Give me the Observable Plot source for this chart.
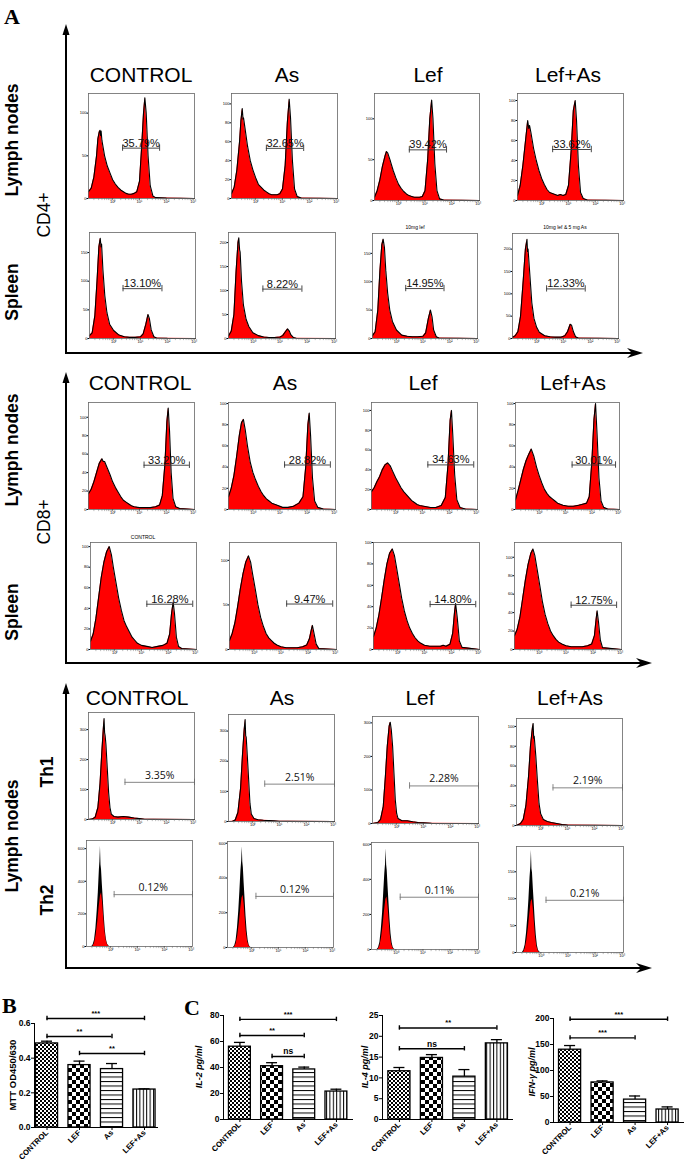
<!DOCTYPE html>
<html><head><meta charset="utf-8">
<script src="https://cdn.jsdelivr.net/npm/d3@7"></script>
<script src="https://cdn.jsdelivr.net/npm/@observablehq/plot@0.6"></script>
<style>
body{margin:0;background:#fff;}
#fig{position:relative;width:685px;height:1165px;overflow:hidden;background:#fff;font-family:"Liberation Sans",Arial,sans-serif;}
#fig svg{position:absolute;overflow:visible;}
</style></head><body><div id="fig"></div>
<script>
// ---------------- DATA ----------------
const treatments = ["CONTROL", "As", "Lef", "Lef+As"];
const cd4LymphPct = ["35.79%", "32.65%", "39.42%", "33.62%"];
const cd4SpleenPct = ["13.10%", "8.22%", "14.95%", "12.33%"];
const cd8LymphPct = ["33.20%", "28.82%", "34.63%", "30.01%"];
const cd8SpleenPct = ["16.28%", "9.47%", "14.80%", "12.75%"];
const th1Pct = ["3.35%", "2.51%", "2.28%", "2.19%"];
const th2Pct = ["0.12%", "0.12%", "0.11%", "0.21%"];
const spleenSubtitles = ["", "", "10mg lef", "10mg lef & 5 mg As"];
const cd8SpleenSubtitles = ["CONTROL", "", "", ""];

// histogram curves: [log10 fluorescence, count]
const cd4Lymph = [
 [[-0.9,8],[-0.8,12],[-0.7,25],[-0.6,50],[-0.55,70],[-0.5,78],[-0.47,80],[-0.45,74],[-0.43,79],[-0.4,68],[-0.3,50],[-0.2,38],[-0.1,30],[0,22],[0.1,17],[0.2,13],[0.3,10],[0.4,8],[0.5,6],[0.6,5],[0.7,5],[0.8,6],[0.9,8],[1.0,20],[1.08,60],[1.15,100],[1.2,118],[1.25,100],[1.32,50],[1.4,15],[1.5,3],[1.6,1],[2,0.5],[3.05,0]],
 [[-0.9,5],[-0.8,12],[-0.7,30],[-0.6,60],[-0.55,82],[-0.5,95],[-0.47,84],[-0.45,85],[-0.4,75],[-0.3,55],[-0.2,40],[-0.1,30],[0,22],[0.1,15],[0.2,12],[0.3,9],[0.4,7],[0.5,5],[0.6,4],[0.7,4],[0.8,4],[0.9,5],[1.0,10],[1.1,35],[1.18,80],[1.25,105],[1.3,85],[1.37,40],[1.45,10],[1.55,2],[1.7,0.5],[3.05,0]],
 [[-0.9,4],[-0.8,12],[-0.7,25],[-0.6,42],[-0.5,55],[-0.45,60],[-0.4,58],[-0.3,48],[-0.2,37],[-0.1,28],[0,20],[0.1,15],[0.2,11],[0.3,8],[0.4,6],[0.5,5],[0.6,4],[0.7,4],[0.8,4],[0.9,5],[1.0,12],[1.1,50],[1.18,100],[1.25,123],[1.3,100],[1.37,45],[1.45,12],[1.55,2],[1.7,0.5],[3.05,0]],
 [[-0.9,5],[-0.8,15],[-0.7,35],[-0.6,60],[-0.52,80],[-0.48,72],[-0.45,75],[-0.4,68],[-0.3,52],[-0.2,40],[-0.1,30],[0,22],[0.1,16],[0.2,11],[0.3,8],[0.4,7],[0.5,6],[0.6,5],[0.7,6],[0.8,5],[0.9,6],[1.0,15],[1.1,50],[1.18,90],[1.25,100],[1.3,80],[1.37,35],[1.45,8],[1.55,2],[1.7,0.5],[3.05,0]]
];
const cd4Spleen = [
 [[-0.9,5],[-0.8,10],[-0.7,40],[-0.62,100],[-0.55,160],[-0.5,175],[-0.47,160],[-0.45,165],[-0.4,120],[-0.33,75],[-0.25,45],[-0.15,25],[0,14],[0.2,6],[0.4,3],[0.6,2],[0.8,2],[1.0,3],[1.1,8],[1.2,25],[1.28,42],[1.33,35],[1.4,15],[1.5,3],[1.6,1],[2,0.3],[3.05,0]],
 [[-0.9,5],[-0.8,15],[-0.7,50],[-0.62,140],[-0.55,200],[-0.52,210],[-0.49,185],[-0.47,180],[-0.42,120],[-0.35,70],[-0.25,40],[-0.15,25],[0,12],[0.2,6],[0.4,3],[0.6,2],[0.8,2],[1.0,3],[1.1,6],[1.2,14],[1.28,20],[1.34,16],[1.4,8],[1.5,2],[1.6,0.5],[3.05,0]],
 [[-0.9,5],[-0.8,12],[-0.7,50],[-0.62,120],[-0.55,165],[-0.5,175],[-0.45,160],[-0.4,120],[-0.33,80],[-0.25,50],[-0.15,30],[0,15],[0.2,6],[0.4,4],[0.6,3],[0.8,3],[1.0,4],[1.1,10],[1.2,35],[1.28,50],[1.34,38],[1.4,15],[1.5,3],[1.6,1],[3.05,0]],
 [[-0.9,3],[-0.8,6],[-0.7,15],[-0.6,50],[-0.5,130],[-0.42,200],[-0.36,222],[-0.34,195],[-0.32,200],[-0.25,140],[-0.18,80],[-0.1,45],[0,25],[0.1,14],[0.3,6],[0.5,4],[0.7,3],[0.9,3],[1.05,6],[1.15,15],[1.25,32],[1.3,30],[1.37,15],[1.45,4],[1.55,1],[3.05,0]]
];
const cd8Lymph = [
 [[-0.9,17],[-0.8,22],[-0.7,30],[-0.6,40],[-0.5,50],[-0.4,55],[-0.35,52],[-0.3,52],[-0.2,45],[-0.1,38],[0,30],[0.1,24],[0.2,19],[0.3,14],[0.4,10],[0.5,8],[0.6,6],[0.7,4],[0.8,3],[1.0,2],[1.2,2],[1.4,2],[1.6,3],[1.75,5],[1.85,15],[1.95,50],[2.02,95],[2.07,110],[2.12,85],[2.18,40],[2.25,12],[2.35,3],[2.5,1],[3.05,0]],
 [[-0.9,12],[-0.8,20],[-0.7,32],[-0.6,50],[-0.5,70],[-0.42,82],[-0.35,85],[-0.28,75],[-0.2,60],[-0.1,45],[0,35],[0.1,28],[0.2,22],[0.3,17],[0.4,13],[0.5,10],[0.6,8],[0.7,6],[0.8,5],[0.9,4],[1.1,2],[1.3,2],[1.5,3],[1.7,6],[1.85,12],[1.95,40],[2.03,80],[2.08,91],[2.13,70],[2.2,30],[2.28,8],[2.4,2],[2.6,0.5],[3.05,0]],
 [[-0.9,18],[-0.8,22],[-0.7,28],[-0.6,33],[-0.5,40],[-0.4,45],[-0.3,47],[-0.2,44],[-0.1,38],[0,32],[0.1,27],[0.2,22],[0.3,18],[0.4,15],[0.5,12],[0.6,9],[0.7,7],[0.8,5],[0.9,4],[1.1,3],[1.3,2],[1.5,2],[1.7,4],[1.85,12],[1.95,45],[2.03,90],[2.08,100],[2.13,75],[2.2,35],[2.28,10],[2.4,2],[2.6,0.5],[3.05,0]],
 [[-0.9,9],[-0.8,18],[-0.7,28],[-0.6,38],[-0.5,46],[-0.4,52],[-0.3,57],[-0.2,50],[-0.1,40],[0,32],[0.1,25],[0.2,19],[0.3,15],[0.4,12],[0.5,10],[0.6,8],[0.7,6],[0.8,5],[0.9,4],[1.1,3],[1.3,3],[1.5,4],[1.65,5],[1.8,6],[1.9,12],[2.0,45],[2.08,85],[2.14,100],[2.2,70],[2.27,30],[2.35,8],[2.45,2],[2.6,0.5],[3.05,0]]
];
const cd8Spleen = [
 [[-0.9,8],[-0.8,15],[-0.7,30],[-0.6,50],[-0.5,70],[-0.4,85],[-0.3,95],[-0.2,100],[-0.12,92],[-0.05,80],[0.05,65],[0.15,50],[0.25,38],[0.35,28],[0.45,22],[0.55,17],[0.65,12],[0.75,9],[0.85,6],[1.0,4],[1.2,3],[1.4,2],[1.6,3],[1.8,4],[1.95,6],[2.05,15],[2.12,35],[2.18,46],[2.23,35],[2.3,12],[2.38,3],[2.5,1],[3.05,0]],
 [[-0.9,10],[-0.8,18],[-0.7,30],[-0.6,48],[-0.5,68],[-0.4,85],[-0.3,98],[-0.2,105],[-0.12,98],[-0.05,85],[0.05,68],[0.15,50],[0.25,36],[0.35,26],[0.45,18],[0.55,13],[0.65,10],[0.75,7],[0.85,5],[1.0,3],[1.2,2],[1.4,2],[1.6,2],[1.8,3],[1.95,5],[2.05,12],[2.12,22],[2.16,27],[2.22,18],[2.3,6],[2.4,1],[3.05,0]],
 [[-0.9,12],[-0.8,20],[-0.7,32],[-0.6,48],[-0.5,65],[-0.4,80],[-0.3,90],[-0.2,94],[-0.12,88],[-0.05,78],[0.05,63],[0.15,48],[0.25,36],[0.35,27],[0.45,20],[0.55,15],[0.65,11],[0.75,8],[0.85,6],[1.0,4],[1.2,3],[1.4,3],[1.6,3],[1.7,4],[1.8,3],[1.95,5],[2.05,15],[2.12,35],[2.16,43],[2.22,30],[2.3,8],[2.4,2],[3.05,0]],
 [[-0.9,15],[-0.8,22],[-0.7,35],[-0.6,55],[-0.5,75],[-0.4,92],[-0.3,104],[-0.22,109],[-0.15,102],[-0.07,88],[0.03,70],[0.13,52],[0.23,38],[0.33,28],[0.43,20],[0.53,15],[0.63,11],[0.73,8],[0.85,6],[1.0,4],[1.2,3],[1.4,3],[1.6,3],[1.8,4],[1.95,6],[2.05,15],[2.11,32],[2.15,42],[2.2,30],[2.27,10],[2.35,2],[3.05,0]]
];
const th1 = [
 [[-0.9,0],[-0.75,2],[-0.65,8],[-0.55,40],[-0.47,120],[-0.4,230],[-0.35,300],[-0.32,337],[-0.3,290],[-0.28,280],[-0.25,250],[-0.2,170],[-0.15,90],[-0.1,40],[-0.05,18],[0.05,10],[0.2,8],[0.4,10],[0.6,8],[0.8,5],[1.0,3],[1.2,1],[1.5,0.5],[3.05,0]],
 [[-0.9,0],[-0.75,1],[-0.65,5],[-0.55,30],[-0.45,110],[-0.38,220],[-0.32,300],[-0.28,338],[-0.26,285],[-0.24,280],[-0.2,220],[-0.15,140],[-0.1,60],[-0.05,25],[0.05,10],[0.2,6],[0.4,4],[0.6,3],[0.8,2],[1.0,1],[1.3,0.5],[3.05,0]],
 [[-0.9,0],[-0.7,3],[-0.6,12],[-0.5,50],[-0.42,140],[-0.35,230],[-0.28,290],[-0.24,302],[-0.2,280],[-0.15,230],[-0.1,150],[-0.05,70],[0,30],[0.05,15],[0.2,8],[0.4,8],[0.6,5],[0.8,3],[1.0,2],[1.3,0.5],[3.05,0]],
 [[-0.9,0],[-0.75,2],[-0.65,6],[-0.55,20],[-0.45,50],[-0.38,80],[-0.31,98],[-0.28,103],[-0.26,88],[-0.24,90],[-0.18,70],[-0.12,45],[-0.06,22],[0,12],[0.1,6],[0.25,4],[0.4,3],[0.6,2],[0.8,1],[1.0,0.5],[3.05,0]]
];
const th2Raw = [
 [[-0.9,0],[-0.7,0],[-0.65,10],[-0.6,40],[-0.55,110],[-0.5,220],[-0.46,330],[-0.42,470],[-0.4,520],[-0.38,615],[-0.36,500],[-0.34,470],[-0.31,380],[-0.28,300],[-0.24,190],[-0.2,100],[-0.16,45],[-0.12,15],[-0.07,3],[-0.03,0],[3.05,0]],
 [[-0.9,0],[-0.68,0],[-0.63,10],[-0.58,40],[-0.53,110],[-0.48,210],[-0.44,320],[-0.4,440],[-0.37,500],[-0.35,580],[-0.33,490],[-0.31,460],[-0.28,370],[-0.25,290],[-0.21,180],[-0.17,95],[-0.13,40],[-0.09,12],[-0.05,2],[-0.01,0],[3.05,0]],
 [[-0.9,0],[-0.69,0],[-0.64,10],[-0.59,40],[-0.54,110],[-0.49,210],[-0.45,320],[-0.41,430],[-0.38,490],[-0.36,575],[-0.34,480],[-0.32,450],[-0.29,360],[-0.26,280],[-0.22,175],[-0.18,90],[-0.14,38],[-0.1,12],[-0.06,2],[-0.02,0],[3.05,0]],
 [[-0.9,0],[-0.68,0],[-0.63,4],[-0.58,14],[-0.53,36],[-0.48,68],[-0.44,100],[-0.4,140],[-0.37,160],[-0.35,190],[-0.33,155],[-0.31,148],[-0.28,120],[-0.25,95],[-0.21,60],[-0.17,32],[-0.13,13],[-0.09,4],[-0.05,1],[-0.01,0],[3.05,0]]
];
const th2Gated = [
 [[-0.66,0],[-0.6,20],[-0.54,70],[-0.48,150],[-0.43,240],[-0.38,310],[-0.34,330],[-0.3,270],[-0.26,180],[-0.22,100],[-0.17,40],[-0.12,10],[-0.07,0]],
 [[-0.64,0],[-0.58,20],[-0.52,65],[-0.46,140],[-0.41,220],[-0.36,285],[-0.32,300],[-0.28,250],[-0.24,170],[-0.2,90],[-0.15,35],[-0.1,8],[-0.05,0]],
 [[-0.65,0],[-0.59,20],[-0.53,65],[-0.47,140],[-0.42,220],[-0.37,285],[-0.33,300],[-0.29,245],[-0.25,165],[-0.21,85],[-0.16,32],[-0.11,7],[-0.06,0]],
 [[-0.64,0],[-0.58,7],[-0.52,22],[-0.46,46],[-0.41,72],[-0.36,94],[-0.32,99],[-0.28,82],[-0.24,56],[-0.2,30],[-0.15,11],[-0.1,3],[-0.05,0]]
];
// gates: [from log10, to log10, count level]
const cd4LymphGates = [[0.37,1.75,59],[0.40,1.79,53],[0.41,1.81,62],[0.41,1.85,51]];
const cd4SpleenGates = [[0.35,1.8,87],[0.37,1.81,103],[0.35,1.79,88],[0.37,1.81,111]];
const cd8LymphGates = [[1.17,2.86,48],[1.17,2.86,42],[1.2,2.91,45],[1.25,2.9,42]];
const cd8SpleenGates = [[1.2,2.91,44],[1.21,2.91,51],[1.21,2.91,42],[1.19,2.87,48]];
const th1Gates = [[0.46,3.05,124],[0.45,3.05,124],[0.48,3.05,112],[0.46,3.05,38]];
const th2Gates = [[0.13,3.05,318],[0.16,3.05,294],[0.16,3.05,298],[0.19,3.05,97]];
// y scale tops and ticks
const cd4LymphYmax = [123,111,131,107];
const cd4SpleenYmax = [185,221,185,235];
const cd8LymphYmax = [116,101,108,101];
const cd8SpleenYmax = [104,120,100,116];
const th1Ymax = [357,355,319,108];
const th2Ymax = [650,610,610,197];
const t20 = [0,20,40,60,80,100], t50 = [0,50,100], t50b=[0,50,100,150], t50c=[0,50,100,150,200];
const cd4LymphYticks = [t50,t20,t50,t20];
const cd4SpleenYticks = [t50b,t50c,t50b,t50c];
const cd8LymphYticks = [t20,t20,t20,t20];
const cd8SpleenYticks = [t20,t50,t20,t20];
const th1Yticks = [[0,100,200,300],[0,100,200,300],[0,100,200,300],t20];
const th2Yticks = [[0,200,400,600],[0,200,400,600],[0,200,400,600],t50b];
const decadeLabels = ["10⁰","10¹","10²","10³"];

// bar charts
const barCats = ["CONTROL","LEF","As","LEF+As"];
const mttMean = [0.485,0.36,0.337,0.219];
const mttSem = [0.013,0.023,0.032,0.004];
const il2Mean = [56,41,38.5,21.5];
const il2Sem = [3.3,2.7,1.8,1.8];
const il4Mean = [11.6,14.8,10.3,18.3];
const il4Sem = [0.9,0.8,1.7,0.9];
const ifnMean = [140,77,44,25];
const ifnSem = [8,3,7,5];
const mttSig = [{from:0,to:3,y:0.629,label:"***"},{from:0,to:2,y:0.525,label:"**"},{from:1,to:3,y:0.427,label:"**"}];
const il2Sig = [{from:0,to:3,y:77,label:"***"},{from:0,to:2,y:64.6,label:"**"},{from:1,to:2,y:48.5,label:"ns"}];
const il4Sig = [{from:0,to:3,y:22,label:"**"},{from:0,to:2,y:17,label:"ns"}];
const ifnSig = [{from:0,to:3,y:198.7,label:"***"},{from:0,to:2,y:162.8,label:"***"}];

// ---------------- LAYOUT ----------------
const fig = document.getElementById("fig");
const RED = "#ff0000";
const NS = "http://www.w3.org/2000/svg";
const cd4LymphBox = [[88,93,194,198],[231,93,337,198],[374,93,479,200],[517,93,623,200]];
const cd4SpleenBox = [[89,232,195,338],[228,232,335,338],[372,233,477,338],[512,233,618,338]];
const cd8LymphBox = [[88,402,194,509],[228,402,335,509],[371,402,477,509],[515,402,619,509]];
const cd8SpleenBox = [[90,542,196,649],[229,542,336,649],[373,542,479,649],[514,542,621,649]];
const th1Box = [[88,712,194,819],[228,714,334,821],[372,716,478,823],[516,718,622,825]];
const th2Box = [[86,840,192,946],[227,841,333,947],[371,842,478,949],[516,846,623,952]];

const minorTicks = [];
for (let d = -1; d <= 2; d++) for (let k = 2; k <= 9; k++) { const v = d + Math.log10(k); if (v > -0.9 && v < 3.05) minorTicks.push(v); }

function place(svg, left, top) { svg.style.left = left + "px"; svg.style.top = top + "px"; fig.appendChild(svg); }

function histPanel(box, ymax, yticks, curve, raw, gate, pct, th) {
  const [L,T,R,B] = box;
  const mL = 16, mR = 2, mT = 2, mB = 10;
  const x = d => d[0], y = d => d[1];
  const hh = ymax * 0.03;
  const gs = th ? "#777" : "#333";
  const marks = [];
  if (raw) marks.push(Plot.areaY(raw, {x, y, fill: "#000"}));
  marks.push(Plot.areaY(curve, {x, y, fill: RED}));
  if (!raw) marks.push(Plot.lineY(curve, {x, y, stroke: "#000", strokeWidth: 1.1}));
  marks.push(Plot.ruleX(minorTicks, {x: d => d, y1: 0, y2: -ymax * 0.02, stroke: "#555", strokeWidth: 0.4}));
  marks.push(Plot.ruleY([gate], {x1: d => d[0], x2: d => d[1], y: d => d[2], stroke: gs, strokeWidth: 0.9}));
  marks.push(Plot.ruleX([gate[0], gate[1]], {x: d => d, y1: gate[2] - hh, y2: gate[2] + hh, stroke: gs, strokeWidth: 0.9}));
  marks.push(Plot.text([pct], {x: (gate[0] + gate[1]) / 2, y: gate[2], text: d => d, dy: th ? -7 : -5, fontSize: th ? 10.5 : 11, fontFamily: th ? "Open Sans" : "Liberation Sans", fill: "#111"}));
  marks.push(Plot.frame({stroke: "#666", strokeWidth: 0.8}));
  const svg = Plot.plot({
    width: R - L + mL + mR, height: B - T + mT + mB,
    marginLeft: mL, marginRight: mR, marginTop: mT, marginBottom: mB,
    style: {fontSize: "4px", fontFamily: "Liberation Sans", background: "transparent", overflow: "visible"},
    x: {domain: [-0.9, 3.05], ticks: [0,1,2,3], tickFormat: d => decadeLabels[d], tickSize: 1.5, tickPadding: 0.5, label: null},
    y: {domain: [0, ymax], ticks: yticks, tickSize: 1.5, tickPadding: 0.5, label: null},
    marks
  });
  place(svg, L - mL, T - mT);
}

function row(boxes, ymaxs, yticks, curves, raws, gates, pcts, th) {
  for (let i = 0; i < 4; i++) histPanel(boxes[i], ymaxs[i], yticks[i], curves[i], raws ? raws[i] : null, gates[i], pcts[i], th);
}
row(cd4LymphBox, cd4LymphYmax, cd4LymphYticks, cd4Lymph, null, cd4LymphGates, cd4LymphPct, false);
row(cd4SpleenBox, cd4SpleenYmax, cd4SpleenYticks, cd4Spleen, null, cd4SpleenGates, cd4SpleenPct, false);
row(cd8LymphBox, cd8LymphYmax, cd8LymphYticks, cd8Lymph, null, cd8LymphGates, cd8LymphPct, false);
row(cd8SpleenBox, cd8SpleenYmax, cd8SpleenYticks, cd8Spleen, null, cd8SpleenGates, cd8SpleenPct, false);
row(th1Box, th1Ymax, th1Yticks, th1, null, th1Gates, th1Pct, true);
row(th2Box, th2Ymax, th2Yticks, th2Gated, th2Raw, th2Gates, th2Pct, true);

// patterns
const defs = document.createElementNS(NS, "svg");
defs.setAttribute("width", 0); defs.setAttribute("height", 0);
defs.innerHTML = `<defs>
<pattern id="pCtl" patternUnits="userSpaceOnUse" width="4" height="4"><rect width="4" height="4" fill="#fff"/><rect width="2" height="2" fill="#000"/><rect x="2" y="2" width="2" height="2" fill="#000"/></pattern>
<pattern id="pLef" patternUnits="userSpaceOnUse" width="8" height="8"><rect width="8" height="8" fill="#fff"/><rect width="4" height="4" fill="#000"/><rect x="4" y="4" width="4" height="4" fill="#000"/></pattern>
<pattern id="pAs" patternUnits="userSpaceOnUse" width="4" height="4.5"><rect width="4" height="4.5" fill="#fff"/><rect width="4" height="1" fill="#000"/></pattern>
<pattern id="pLA" patternUnits="userSpaceOnUse" width="3.4" height="4"><rect width="3.4" height="4" fill="#fff"/><rect width="1" height="4" fill="#000"/></pattern>
</defs>`;
defs.style.left = "0px"; defs.style.top = "0px";
fig.appendChild(defs);
const barFills = ["url(#pCtl)","url(#pLef)","url(#pAs)","url(#pLA)"];

function barPanel(svgLeft, svgTop, frame, xdomain, ydomain, yticks, fmt, means, sems, sigs, mR) {
  const [L,T,R,B] = frame;
  const data = barCats.map((c, i) => ({i, c, m: means[i], e: means[i] + sems[i]}));
  const span = ydomain[1] - ydomain[0];
  const tk = span / 104 * 2.2;
  const ends = sigs.flatMap(s => [{x: s.from, y: s.y}, {x: s.to, y: s.y}]);
  const svg = Plot.plot({
    width: R - svgLeft + mR, height: 1165 - svgTop,
    marginLeft: L - svgLeft, marginRight: mR, marginTop: T - svgTop, marginBottom: 1165 - B,
    style: {fontSize: "8.5px", fontWeight: "bold", fontFamily: "Liberation Sans", background: "transparent", overflow: "visible"},
    x: {domain: xdomain, ticks: [0,1,2,3], tickFormat: i => barCats[i], tickRotate: -45, tickSize: 3, tickPadding: 1, line: true, label: null},
    y: {domain: ydomain, ticks: yticks, tickFormat: fmt, tickSize: 3, tickPadding: 1, line: true, label: null},
    color: {domain: barCats, range: barFills},
    marks: [
      Plot.rect(data, {x1: d => d.i - 0.34, x2: d => d.i + 0.34, y1: 0, y2: "m", fill: "c", stroke: "#000", strokeWidth: 1.3}),
      Plot.ruleX(data, {x: "i", y1: "m", y2: "e", stroke: "#000", strokeWidth: 1.3}),
      Plot.ruleY(data, {x1: d => d.i - 0.17, x2: d => d.i + 0.17, y: "e", stroke: "#000", strokeWidth: 1.3}),
      Plot.ruleY(sigs, {x1: "from", x2: "to", y: "y", stroke: "#000", strokeWidth: 1.4}),
      Plot.ruleX(ends, {x: "x", y1: d => d.y - tk, y2: d => d.y + tk, stroke: "#000", strokeWidth: 1.4}),
      Plot.text(sigs, {x: d => (d.from + d.to) / 2, y: "y", text: "label", dy: -5, fontSize: d => d.label === "ns" ? 8.5 : 7.5, fontWeight: d => d.label === "ns" ? "normal" : "bold"})
    ]
  });
  svg.querySelectorAll("text").forEach(t => { if (barCats.includes(t.textContent)) t.style.fontSize = "7.7px"; });
  place(svg, svgLeft, svgTop);
}
barPanel(0, 1000, [34,1023,157,1127], [-0.385,3.4], [0,0.6], [0,0.2,0.4,0.6], d3.format(".1f"), mttMean, mttSem, mttSig, 8);
barPanel(190, 1000, [223,1015,352,1119], [-0.51,3.5], [0,80], [0,20,40,60,80], d => d, il2Mean, il2Sem, il2Sig, 6);
barPanel(357, 1000, [382,1015,512,1119], [-0.52,3.48], [0,25], [0,5,10,15,20,25], d => d, il4Mean, il4Sem, il4Sig, 5);
barPanel(522, 1003, [553,1018,683,1122], [-0.51,3.49], [0,200], [0,50,100,150,200], d => d, ifnMean, ifnSem, ifnSig, 2);

// ---------------- OVERLAY (panel letters, group titles, row labels, axis arrows) ----------------
const titleX = [[141,287,428,568],[140,285,423,573],[137,282,420,570]];
const titleY = [82, 390, 705];
const arrows = [{x:66, top:24, y:353, right:643},{x:66, top:372, y:663, right:652},{x:66, top:683, y:968, right:652}];
const rowLabels = [
  {t:"Lymph nodes", x:18, y:140, bold:true}, {t:"CD4+", x:50, y:215, bold:false}, {t:"Spleen", x:18, y:292, bold:true},
  {t:"Lymph nodes", x:18, y:450, bold:true}, {t:"CD8+", x:50, y:522, bold:false}, {t:"Spleen", x:18, y:612, bold:true},
  {t:"Lymph nodes", x:18, y:836, bold:true}, {t:"Th1", x:53, y:772, bold:true}, {t:"Th2", x:53, y:900, bold:true}
];
let o = "";
arrows.forEach(a => {
  o += `<line x1="${a.x}" y1="${a.y}" x2="${a.x}" y2="${a.top+8}" stroke="#000" stroke-width="2"/>`;
  o += `<polygon points="${a.x},${a.top} ${a.x-3.5},${a.top+11} ${a.x+3.5},${a.top+11}" fill="#000"/>`;
  o += `<line x1="${a.x-1}" y1="${a.y}" x2="${a.right-10}" y2="${a.y}" stroke="#000" stroke-width="2"/>`;
  o += `<polygon points="${a.right},${a.y} ${a.right-16},${a.y-5} ${a.right-11},${a.y} ${a.right-16},${a.y+5}" fill="#000"/>`;
});
titleX.forEach((xs, g) => xs.forEach((x, i) => {
  o += `<text x="${x}" y="${titleY[g]}" text-anchor="middle" font-family="Liberation Sans" font-size="21">${treatments[i]}</text>`;
}));
rowLabels.forEach(r => {
  o += `<text transform="translate(${r.x},${r.y}) rotate(-90)" text-anchor="middle" font-family="Liberation Sans" font-size="17.5" font-weight="${r.bold ? "bold" : "normal"}">${r.t}</text>`;
});
const subX = [143, 285, 415, 565];
spleenSubtitles.forEach((s, i) => { if (s) o += `<text x="${subX[i]}" y="229" text-anchor="middle" font-family="Liberation Sans" font-size="5">${s.replace("&","&amp;")}</text>`; });
cd8SpleenSubtitles.forEach((s, i) => { if (s) o += `<text x="${subX[i]}" y="539" text-anchor="middle" font-family="Liberation Sans" font-size="5">${s}</text>`; });
o += `<text x="4" y="24" font-family="Liberation Serif" font-weight="bold" font-size="22">A</text>`;
o += `<text x="2" y="1013" font-family="Liberation Serif" font-weight="bold" font-size="22">B</text>`;
o += `<text x="184" y="1015" font-family="Liberation Serif" font-weight="bold" font-size="22">C</text>`;
const yLabels = [{t:"MTT OD450/630", x:16, y:1075, it:false, fs:9.5},{t:"IL-2 pg/ml", x:202, y:1067, it:true, fs:9},{t:"IL-4 pg/ml", x:368, y:1067, it:true, fs:9},{t:"IFN-γ pg/ml", x:535, y:1072, it:true, fs:9}];
yLabels.forEach(l => {
  o += `<text transform="translate(${l.x},${l.y}) rotate(-90)" text-anchor="middle" font-family="Liberation Sans" font-weight="bold" font-style="${l.it ? "italic" : "normal"}" font-size="${l.fs}">${l.t}</text>`;
});
const ov = document.createElementNS(NS, "svg");
ov.setAttribute("width", 685); ov.setAttribute("height", 1165);
ov.style.left = "0px"; ov.style.top = "0px";
ov.innerHTML = o;
fig.insertBefore(ov, fig.firstChild);
</script></body></html>
